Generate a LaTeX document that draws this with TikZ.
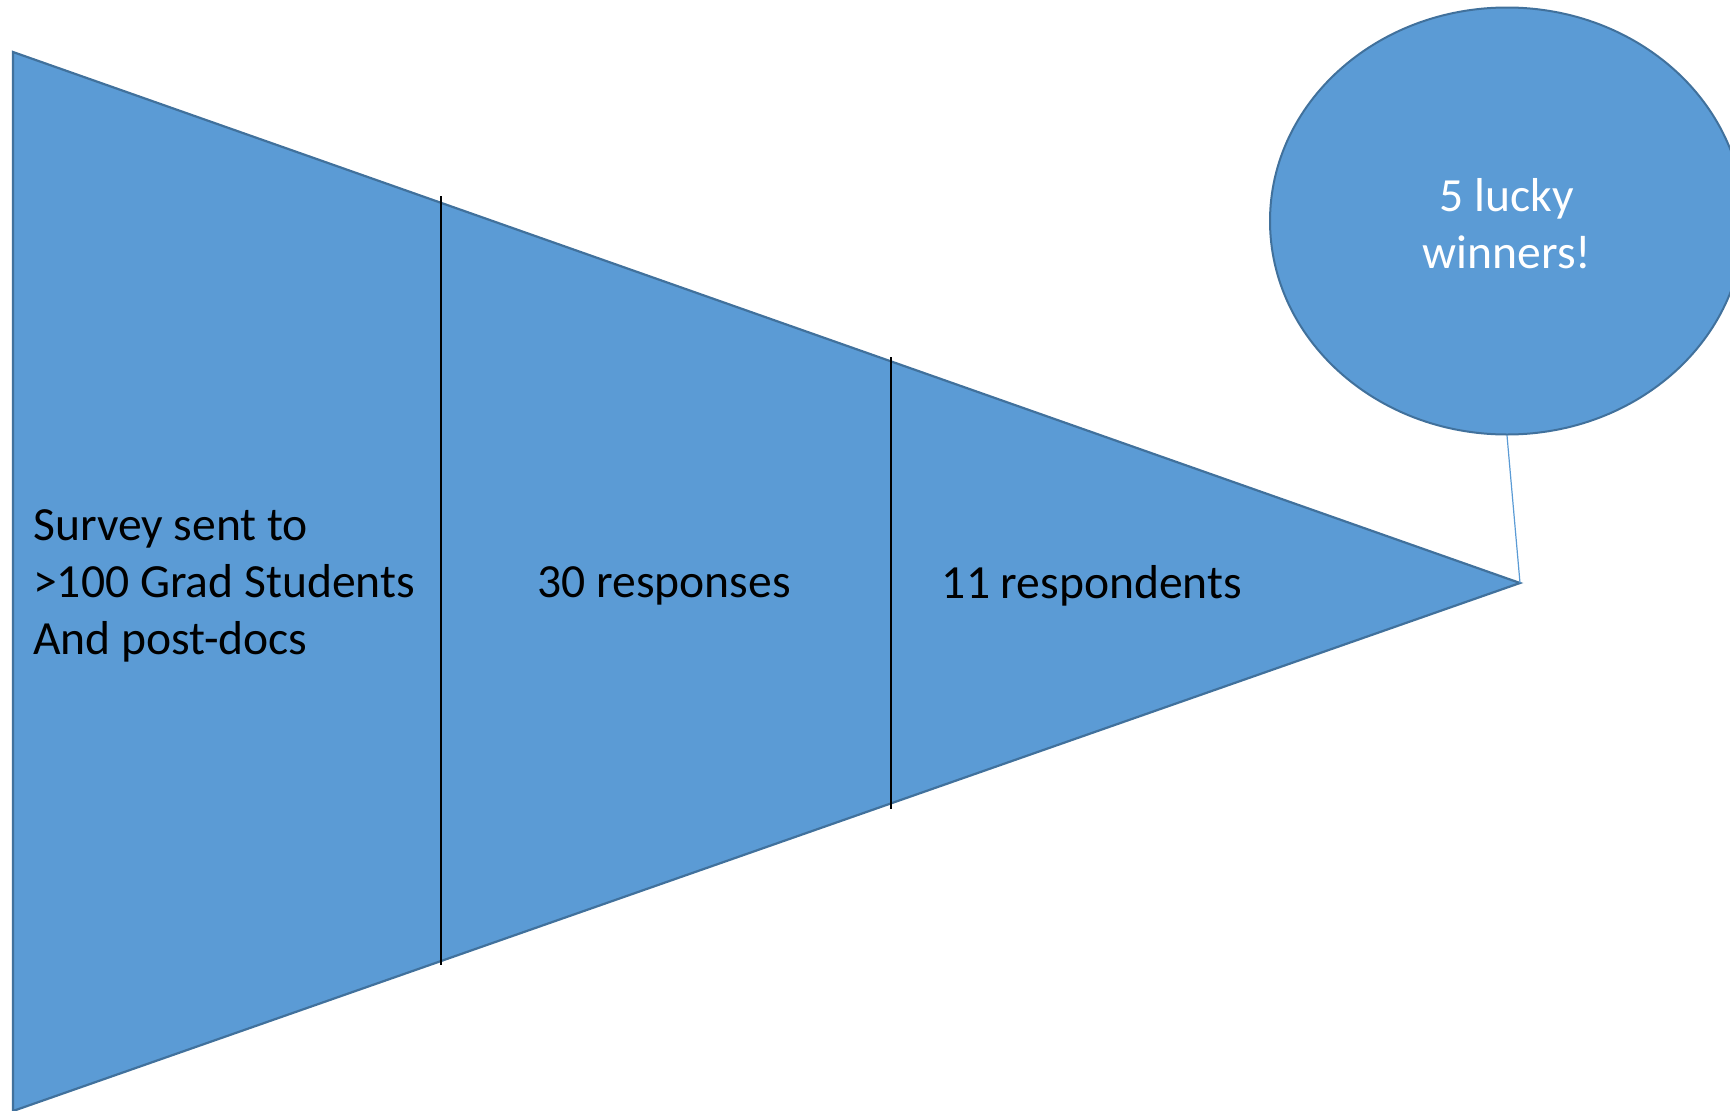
\documentclass[tikz,border=0pt]{standalone}
\usepackage{fontspec}
\setmainfont{Carlito}
\usetikzlibrary{shapes.geometric}
\definecolor{fillblue}{HTML}{5B9BD5}
\definecolor{edgeblue}{HTML}{41719C}
\tikzset{
  funnel/.style={fill=fillblue, draw=edgeblue, line width=2.2pt, line join=miter},
  divider/.style={draw=black, line width=1.4pt},
  lbl/.style={font=\fontsize{47.6}{57}\selectfont, text=black, inner sep=0pt},
  bubble/.style={ellipse, fill=fillblue, draw=edgeblue, line width=2pt, minimum width=474pt, minimum height=427pt, inner sep=0pt, align=center, text=white, font=\fontsize{47.6}{57}\selectfont},
  tail/.style={draw=fillblue, line width=1.2pt}
}
\begin{document}
\begin{tikzpicture}[x=1pt, y=-1pt]
\useasboundingbox (0,0) rectangle (1730,1111);
\coordinate (tl) at (13,52);
\coordinate (bl) at (13,1111);
\coordinate (apex) at (1520,583);
\path[funnel] (tl) -- (apex) -- (bl) -- cycle;
\coordinate (d1t) at (441,196);
\coordinate (d1b) at (441,965);
\coordinate (d2t) at (891,357);
\coordinate (d2b) at (891,809);
\draw[divider] (d1t) -- (d1b);
\draw[divider] (d2t) -- (d2b);
\node[lbl, anchor=west, align=left] (survey) at (33,586) {Survey sent to\\>100 Grad Students\\And post-docs};
\node[lbl] (resp) at (664,586) {30 responses};
\node[lbl] (respd) at (1092,586) {11 respondents};
\node[bubble] (win) at (1507,221) {};
\node[font=\fontsize{47.6}{57}\selectfont, text=white, align=center, inner sep=0pt] (wintext) at (1507,224) {5 lucky\\winners!};
\draw[tail] (win.south) -- (apex);
\end{tikzpicture}
\end{document}
